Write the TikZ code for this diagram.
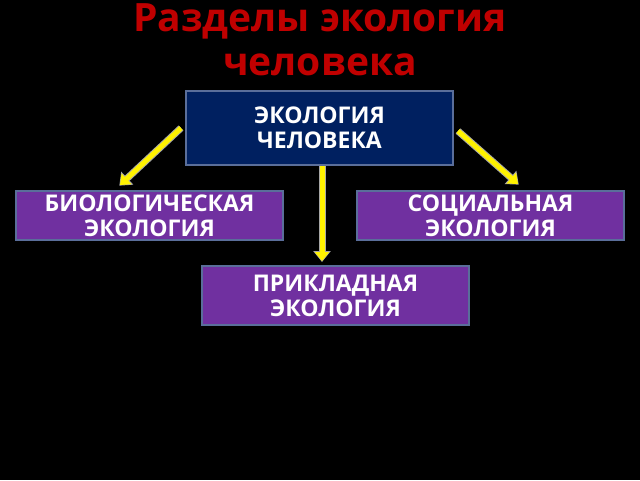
\documentclass[tikz,border=0pt]{standalone}
\usepackage{fontspec}
\setmainfont{Open Sans}
\usetikzlibrary{arrows.meta}
\definecolor{ttl}{HTML}{C00000}
\definecolor{navy}{HTML}{002060}
\definecolor{purp}{HTML}{7030A0}
\definecolor{edge}{HTML}{5A6E9A}
\tikzset{
 box/.style={draw=edge,line width=1.2pt,text=white,font=\bfseries\fontsize{23}{25}\selectfont,align=center,inner sep=0pt},
 yarrow/.style={line width=5pt,yellow,-{Triangle[length=9pt,width=14pt]}},
 garrow/.style={line width=7pt,gray!70,-{Triangle[length=11pt,width=17pt]}}
}
\begin{document}
\begin{tikzpicture}[x=1pt,y=-1pt]
\useasboundingbox[fill=black] (0,0) rectangle (640,480);
\node[text=ttl,font=\bfseries\fontsize{39}{44}\selectfont,align=center] (title) at (320,40) {Разделы экология\\человека};
\node[box,fill=navy,minimum width=267,minimum height=74] (top) at (319.5,128) {ЭКОЛОГИЯ\\ЧЕЛОВЕКА};
\node[box,fill=purp,minimum width=267,minimum height=49] (bio) at (149.5,215.5) {БИОЛОГИЧЕСКАЯ\\ЭКОЛОГИЯ};
\node[box,fill=purp,minimum width=267,minimum height=49] (soc) at (490.5,215.5) {СОЦИАЛЬНАЯ\\ЭКОЛОГИЯ};
\node[box,fill=purp,minimum width=267,minimum height=59] (app) at (335.5,295.5) {ПРИКЛАДНАЯ\\ЭКОЛОГИЯ};
\coordinate (l1) at (181,128); \coordinate (l2) at (120,185);
\coordinate (r1) at (458,131); \coordinate (r2) at (518,184);
\coordinate (d1) at (322,166); \coordinate (d2) at (322,261);
\foreach \a/\b in {l1/l2,r1/r2,d1/d2}{
 \draw[garrow,shorten >=-1pt] (\a) -- (\b);
 \draw[yarrow] (\a) -- (\b);
}
\end{tikzpicture}
\end{document}
